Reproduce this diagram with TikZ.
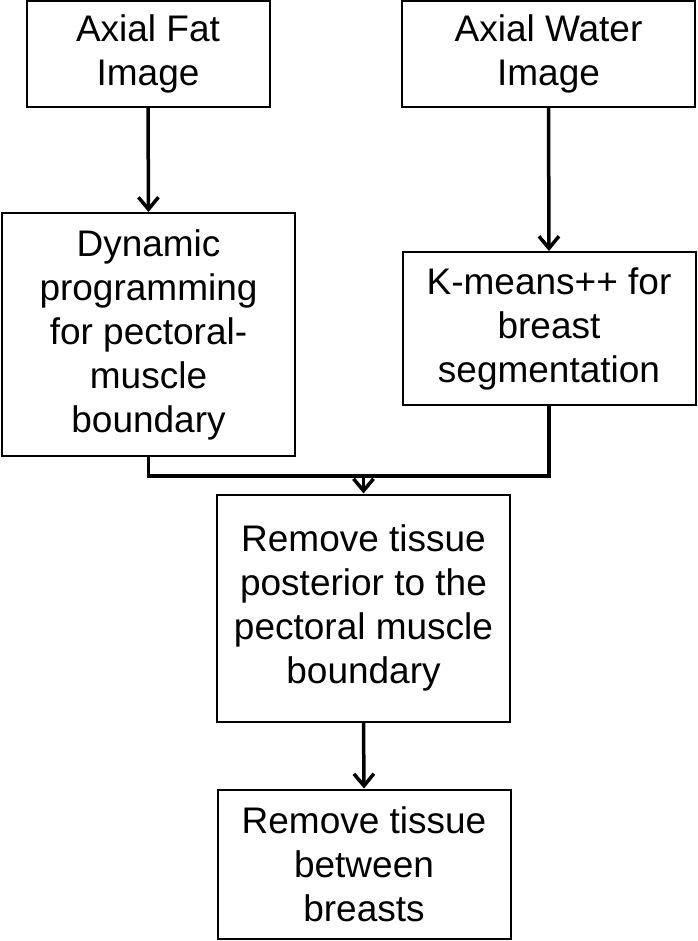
\documentclass[tikz,border=0pt]{standalone}
\usepackage{fontspec}
\setmainfont{Liberation Sans}
\usetikzlibrary{arrows.meta}
\begin{document}
\begin{tikzpicture}[x=1pt,y=-1pt,
  stepbox/.style={draw=black,line width=2pt,inner sep=0pt,align=center,
    font=\fontsize{37}{44}\selectfont},
  conn/.style={line width=3.5pt,draw=black},
  arr/.style={conn,-{Straight Barb[length=12pt,width=20pt,line width=3.5pt]}}]
\useasboundingbox (0,0) rectangle (697,941);
\node[stepbox,minimum width=243pt,minimum height=106pt] (fat) at (148,54) {Axial Fat\\Image};
\node[stepbox,minimum width=293pt,minimum height=106pt] (water) at (548.5,54) {Axial Water\\Image};
\node[stepbox,minimum width=293pt,minimum height=243pt] (dyn) at (148.5,334.5) {Dynamic\\programming\\for pectoral-\\muscle\\boundary};
\node[stepbox,minimum width=293pt,minimum height=153pt] (km) at (549,328.5) {K-means++ for\\breast\\segmentation};
\node[stepbox,minimum width=293pt,minimum height=227pt] (rem) at (363.5,608) {Remove tissue\\posterior to the\\pectoral muscle\\boundary};
\node[stepbox,minimum width=293pt,minimum height=149pt] (btw) at (364,864) {Remove tissue\\between\\breasts};
\coordinate (j) at (363.5,476);
\draw[arr] (fat.south) -- (dyn.north);
\draw[arr] (water.south) -- (km.north);
\draw[conn] (dyn.south) |- (j) -| (km.south);
\draw[arr] (j) -- (rem.north);
\draw[arr] (rem.south) -- (btw.north);
\end{tikzpicture}
\end{document}
